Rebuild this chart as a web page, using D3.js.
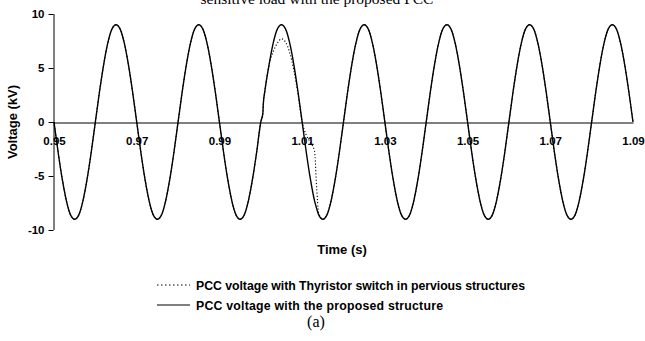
<!DOCTYPE html>
<html>
<head>
<meta charset="utf-8">
<script src="https://cdnjs.cloudflare.com/ajax/libs/d3/7.8.5/d3.min.js"></script>
<style>
  html, body { margin: 0; padding: 0; background: #fff; }
  svg { display: block; }
  .lbl { font-family: "Liberation Sans", Arial, sans-serif; font-weight: bold; fill: #000; }
  .serif { font-family: "Liberation Serif", "Times New Roman", serif; fill: #000; }
</style>
</head>
<body>
<svg id="chart" width="645" height="341"></svg>
<script>
// Sample times (s)
const time = [
  0.950, 0.951, 0.952, 0.953, 0.954, 0.955, 0.956, 0.957, 0.958, 0.959,
  0.960, 0.961, 0.962, 0.963, 0.964, 0.965, 0.966, 0.967, 0.968, 0.969,
  0.970, 0.971, 0.972, 0.973, 0.974, 0.975, 0.976, 0.977, 0.978, 0.979,
  0.980, 0.981, 0.982, 0.983, 0.984, 0.985, 0.986, 0.987, 0.988, 0.989,
  0.990, 0.991, 0.992, 0.993, 0.994, 0.995, 0.996, 0.997, 0.998, 0.999,
  1.000, 1.0005, 1.0006, 1.001, 1.002, 1.003, 1.004, 1.005, 1.006, 1.007, 1.008, 1.009,
  1.010, 1.011, 1.012, 1.013, 1.0135, 1.014, 1.015, 1.016, 1.017, 1.018, 1.019,
  1.020, 1.021, 1.022, 1.023, 1.024, 1.025, 1.026, 1.027, 1.028, 1.029,
  1.030, 1.031, 1.032, 1.033, 1.034, 1.035, 1.036, 1.037, 1.038, 1.039,
  1.040, 1.041, 1.042, 1.043, 1.044, 1.045, 1.046, 1.047, 1.048, 1.049,
  1.050, 1.051, 1.052, 1.053, 1.054, 1.055, 1.056, 1.057, 1.058, 1.059,
  1.060, 1.061, 1.062, 1.063, 1.064, 1.065, 1.066, 1.067, 1.068, 1.069,
  1.070, 1.071, 1.072, 1.073, 1.074, 1.075, 1.076, 1.077, 1.078, 1.079,
  1.080, 1.081, 1.082, 1.083, 1.084, 1.085, 1.086, 1.087, 1.088, 1.089,
  1.090
];

// PCC voltage (kV) with the proposed structure
const vProposed = [
  0, -2.8, -5.3, -7.3, -8.6, -9, -8.6, -7.3, -5.3, -2.8,
  0, 2.8, 5.3, 7.3, 8.6, 9, 8.6, 7.3, 5.3, 2.8,
  0, -2.8, -5.3, -7.3, -8.6, -9, -8.6, -7.3, -5.3, -2.8,
  0, 2.8, 5.3, 7.3, 8.6, 9, 8.6, 7.3, 5.3, 2.8,
  0, -2.8, -5.3, -7.3, -8.6, -9, -8.6, -7.3, -5.3, -2.8,
  0, 0.8, 1.6, 2.9, 5.3, 7.3, 8.6, 9, 8.6, 7.3, 5.3, 2.8,
  0, -2.8, -5.3, -7.3, -8.0, -8.6, -9, -8.6, -7.3, -5.3, -2.8,
  0, 2.8, 5.3, 7.3, 8.6, 9, 8.6, 7.3, 5.3, 2.8,
  0, -2.8, -5.3, -7.3, -8.6, -9, -8.6, -7.3, -5.3, -2.8,
  0, 2.8, 5.3, 7.3, 8.6, 9, 8.6, 7.3, 5.3, 2.8,
  0, -2.8, -5.3, -7.3, -8.6, -9, -8.6, -7.3, -5.3, -2.8,
  0, 2.8, 5.3, 7.3, 8.6, 9, 8.6, 7.3, 5.3, 2.8,
  0, -2.8, -5.3, -7.3, -8.6, -9, -8.6, -7.3, -5.3, -2.8,
  0, 2.8, 5.3, 7.3, 8.6, 9, 8.6, 7.3, 5.3, 2.8,
  0
];

// PCC voltage (kV) with a thyristor switch in previous structures
const vThyristor = [
  0, -2.8, -5.3, -7.3, -8.6, -9, -8.6, -7.3, -5.3, -2.8,
  0, 2.8, 5.3, 7.3, 8.6, 9, 8.6, 7.3, 5.3, 2.8,
  0, -2.8, -5.3, -7.3, -8.6, -9, -8.6, -7.3, -5.3, -2.8,
  0, 2.8, 5.3, 7.3, 8.6, 9, 8.6, 7.3, 5.3, 2.8,
  0, -2.8, -5.3, -7.3, -8.6, -9, -8.6, -7.3, -5.3, -2.8,
  0, 0.8, 1.6, 2.9, 5.3, 6.5, 7.3, 7.7, 7.4, 6.4, 4.8, 2.6,
  0, -1.2, -1.9, -2.7, -6.0, -8.4, -9, -8.6, -7.3, -5.3, -2.8,
  0, 2.8, 5.3, 7.3, 8.6, 9, 8.6, 7.3, 5.3, 2.8,
  0, -2.8, -5.3, -7.3, -8.6, -9, -8.6, -7.3, -5.3, -2.8,
  0, 2.8, 5.3, 7.3, 8.6, 9, 8.6, 7.3, 5.3, 2.8,
  0, -2.8, -5.3, -7.3, -8.6, -9, -8.6, -7.3, -5.3, -2.8,
  0, 2.8, 5.3, 7.3, 8.6, 9, 8.6, 7.3, 5.3, 2.8,
  0, -2.8, -5.3, -7.3, -8.6, -9, -8.6, -7.3, -5.3, -2.8,
  0, 2.8, 5.3, 7.3, 8.6, 9, 8.6, 7.3, 5.3, 2.8,
  0
];

const xTicks = [0.95, 0.97, 0.99, 1.01, 1.03, 1.05, 1.07, 1.09];
const yTicks = [-10, -5, 0, 5, 10];

const titleText = "sensitive load with the proposed PCC";
const xTitle = "Time (s)";
const yTitle = "Voltage (kV)";
const legendLabels = [
  "PCC voltage with Thyristor switch in pervious structures",
  "PCC voltage with the proposed structure"
];
const caption = "(a)";

const svg = d3.select("#chart");
const plot = { left: 53.5, right: 633, top: 14, bottom: 230 };

const x = d3.scaleLinear().domain([0.95, 1.09]).range([plot.left + 0.5, plot.right]);
const y = d3.scaleLinear().domain([-10, 10]).range([plot.bottom, plot.top]);

// Caption line running off the top edge
svg.append("text").attr("class", "serif")
  .attr("x", 317).attr("y", 3.5)
  .attr("text-anchor", "middle")
  .style("font-size", "15.5px")
  .text(titleText);

// Y axis with outward ticks
const yAxis = svg.append("g")
  .attr("transform", `translate(${plot.left},0)`)
  .call(d3.axisLeft(y).tickValues(yTicks).tickSize(5).tickPadding(4).tickFormat(d3.format("d")));
yAxis.select(".domain").attr("stroke", "#000").attr("stroke-width", 1)
  .attr("d", `M0.5,${plot.top}V${plot.bottom}`);
yAxis.selectAll(".tick line").attr("stroke", "#000");
yAxis.selectAll(".tick text").attr("class", "lbl")
  .style("font-size", "11.5px").attr("fill", "#000")
  .text(d => d < 0 ? "-" + Math.abs(d) : d);

// X axis drawn along y = 0, labels below it
const xAxis = svg.append("g")
  .attr("transform", `translate(0,${Math.round(y(0)) + 0.5})`)
  .call(d3.axisBottom(x).tickValues(xTicks).tickSize(0).tickPadding(14).tickFormat(d3.format(".2f")));
xAxis.select(".domain").attr("stroke", "#000").attr("stroke-width", 1);
xAxis.selectAll(".tick text").attr("class", "lbl")
  .style("font-size", "11.5px").attr("fill", "#000");

const pts = (vals) => time.map((t, i) => [t, vals[i]]);
const line = d3.line().x(d => x(d[0])).y(d => y(d[1])).curve(d3.curveMonotoneX);

svg.append("path")
  .attr("d", line(pts(vThyristor)))
  .attr("fill", "none").attr("stroke", "#000")
  .attr("stroke-width", 1.1).attr("stroke-dasharray", "1.2,2");

svg.append("path")
  .attr("d", line(pts(vProposed)))
  .attr("fill", "none").attr("stroke", "#000")
  .attr("stroke-width", 1.4);

// Axis titles
svg.append("text").attr("class", "lbl")
  .attr("x", 342).attr("y", 254)
  .attr("text-anchor", "middle").style("font-size", "13px")
  .text(xTitle);

svg.append("text").attr("class", "lbl")
  .attr("transform", `translate(17,${y(0)}) rotate(-90)`)
  .attr("text-anchor", "middle").style("font-size", "13px")
  .text(yTitle);

// Legend
const legend = svg.append("g");
const legendRows = [
  { dash: "1.5,2.5", y: 285, width: 329 },
  { dash: null, y: 305, width: 247 }
];
legendRows.forEach((r, i) => {
  const ln = legend.append("line")
    .attr("x1", 157).attr("x2", 190).attr("y1", r.y).attr("y2", r.y)
    .attr("stroke", "#000").attr("stroke-width", 1.2);
  if (r.dash) ln.attr("stroke-dasharray", r.dash);
  legend.append("text").attr("class", "lbl")
    .attr("x", 196).attr("y", r.y + 4.5)
    .style("font-size", "12.3px")
    .attr("textLength", r.width).attr("lengthAdjust", "spacing")
    .text(legendLabels[i]);
});

svg.append("text").attr("class", "serif")
  .attr("x", 316).attr("y", 327)
  .attr("text-anchor", "middle").style("font-size", "16px")
  .text(caption);
</script>
</body>
</html>
